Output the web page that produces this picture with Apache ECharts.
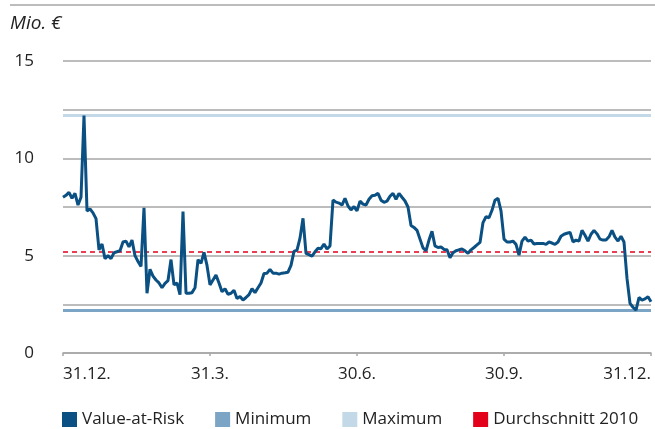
<!DOCTYPE html>
<html>
<head>
<meta charset="utf-8">
<title>Value-at-Risk</title>
<script src="https://cdn.jsdelivr.net/npm/echarts@6/dist/echarts.min.js"></script>
<style>
  html, body {
    margin: 0;
    padding: 0;
    background: #fff;
  }
  #chart {
    width: 655px;
    height: 429px;
  }
</style>
</head>
<body>
<div id="chart"></div>
<script>
// Quartalsbeschriftungen der x-Achse
const tickLabels = ["31.12.", "31.3.", "30.6.", "30.9.", "31.12."];

// Value-at-Risk, Mio. €, von 31.12. bis 31.12.
const varValues = [
  8.0, 8.1, 8.25, 7.95, 8.2, 7.6, 8.0, 12.2, 7.3, 7.4,
  7.2, 6.9, 5.3, 5.6, 4.85, 5.0, 4.85, 5.15, 5.2, 5.25,
  5.7, 5.75, 5.45, 5.8, 5.0, 4.7, 4.45, 7.46, 3.07, 4.3,
  3.95, 3.75, 3.6, 3.35, 3.58, 3.72, 4.8, 3.5, 3.6, 3.0,
  7.26, 3.07, 3.07, 3.1, 3.35, 4.8, 4.6, 5.17, 4.5, 3.5,
  3.75, 4.0, 3.6, 3.15, 3.3, 3.02, 3.07, 3.22, 2.8, 2.9,
  2.72, 2.85, 3.0, 3.3, 3.1, 3.35, 3.6, 4.08, 4.1, 4.3,
  4.1, 4.1, 4.05, 4.1, 4.12, 4.15, 4.5, 5.22, 5.29, 5.9,
  6.92, 5.12, 5.05, 4.98, 5.2, 5.38, 5.36, 5.6, 5.34, 5.5,
  7.86, 7.75, 7.7, 7.6, 7.95, 7.55, 7.35, 7.52, 7.3, 7.8,
  7.65, 7.6, 7.9, 8.08, 8.1, 8.2, 7.85, 7.74, 7.8, 8.05,
  8.2, 7.9, 8.2, 8.0, 7.81, 7.5, 6.55, 6.45, 6.3, 5.85,
  5.4, 5.25, 5.8, 6.25, 5.5, 5.42, 5.45, 5.32, 5.3, 4.9,
  5.15, 5.25, 5.3, 5.34, 5.25, 5.12, 5.3, 5.42, 5.55, 5.68,
  6.7, 7.0, 6.95, 7.33, 7.85, 7.95, 7.3, 5.85, 5.7, 5.7,
  5.75, 5.58, 5.03, 5.75, 5.95, 5.75, 5.8, 5.6, 5.63, 5.63,
  5.63, 5.58, 5.7, 5.65, 5.58, 5.7, 6.0, 6.1, 6.15, 6.2,
  5.71, 5.8, 5.75, 6.3, 6.05, 5.75, 6.1, 6.3, 6.12, 5.85,
  5.8, 5.8, 5.97, 6.3, 5.95, 5.75, 6.0, 5.7, 3.83, 2.55,
  2.35, 2.2, 2.85, 2.72, 2.78, 2.89, 2.63
];

// Kennzahlen 2010
const minimumValue = 2.2;
const maximumValue = 12.2;
const averageValue = 5.2;

// beschriftete Werte der y-Achse
const yTickLabels = [0, 5, 10, 15];

const days = varValues.map((v, i) => i);
const quarterStep = (varValues.length - 1) / (tickLabels.length - 1);

const textColor = "#222";
const gridColor = "#a6a6a6";
const fontFamily = "'Open Sans', 'Noto Sans', sans-serif";

let mychart = echarts.init(document.getElementById("chart"));
mychart.setOption({
  animation: false,
  textStyle: {
    fontFamily: fontFamily,
  },
  title: {
    text: "Mio. €",
    left: 10,
    top: 14,
    padding: 0,
    textStyle: {
      fontSize: 19,
      fontStyle: "italic",
      fontWeight: "normal",
      color: textColor,
      fontFamily: fontFamily,
    },
  },
  // obere Trennlinie
  graphic: [
    {
      type: "line",
      shape: { x1: 10, y1: 5, x2: 655, y2: 5 },
      style: { stroke: gridColor, lineWidth: 1.5 },
    },
  ],
  grid: {
    left: 63,
    right: 4,
    top: 61,
    bottom: 76,
  },
  legend: {
    data: ["Value-at-Risk", "Minimum", "Maximum", "Durchschnitt 2010"],
    left: 62,
    top: 411,
    padding: 0,
    icon: "rect",
    itemWidth: 15,
    itemHeight: 15,
    itemGap: 31,
    textStyle: {
      fontSize: 17,
      color: textColor,
    },
  },
  xAxis: {
    type: "category",
    boundaryGap: false,
    data: days,
    axisLine: {
      lineStyle: {
        color: gridColor,
        width: 1.5,
      },
    },
    axisTick: {
      interval: quarterStep - 1,
      length: 3,
      lineStyle: {
        color: gridColor,
        width: 1.5,
      },
    },
    axisLabel: {
      interval: quarterStep - 1,
      margin: 13,
      fontSize: 17,
      color: textColor,
      alignMinLabel: "left",
      alignMaxLabel: "right",
      formatter: function (value, index) {
        return tickLabels[Math.round(index / quarterStep)];
      },
    },
    splitLine: { show: false },
  },
  yAxis: {
    type: "value",
    min: 0,
    max: 15,
    interval: 2.5,
    axisLine: { show: false },
    axisTick: { show: false },
    axisLabel: {
      margin: 29,
      fontSize: 17,
      color: textColor,
      formatter: function (value) {
        return yTickLabels.indexOf(value) >= 0 ? String(value) : "";
      },
    },
    splitLine: {
      lineStyle: {
        color: gridColor,
        width: 1.5,
      },
    },
  },
  series: [
    {
      name: "Minimum",
      type: "line",
      data: [],
      color: "#7ca4c4",
      markLine: {
        silent: true,
        symbol: "none",
        label: { show: false },
        lineStyle: { color: "#7ca4c4", width: 3, type: "solid" },
        data: [{ yAxis: minimumValue }],
      },
    },
    {
      name: "Maximum",
      type: "line",
      data: [],
      color: "#c4d9e7",
      markLine: {
        silent: true,
        symbol: "none",
        label: { show: false },
        lineStyle: { color: "#c4d9e7", width: 3, type: "solid" },
        data: [{ yAxis: maximumValue }],
      },
    },
    {
      name: "Durchschnitt 2010",
      type: "line",
      data: [],
      color: "#e3001b",
      markLine: {
        silent: true,
        symbol: "none",
        label: { show: false },
        lineStyle: { color: "#e3001b", width: 1.5, type: [5, 4] },
        data: [{ yAxis: averageValue }],
      },
    },
    {
      name: "Value-at-Risk",
      type: "line",
      data: varValues,
      color: "#0b5083",
      symbol: "none",
      z: 5,
      lineStyle: {
        color: "#0b5083",
        width: 3,
      },
    },
  ],
});
</script>
</body>
</html>
